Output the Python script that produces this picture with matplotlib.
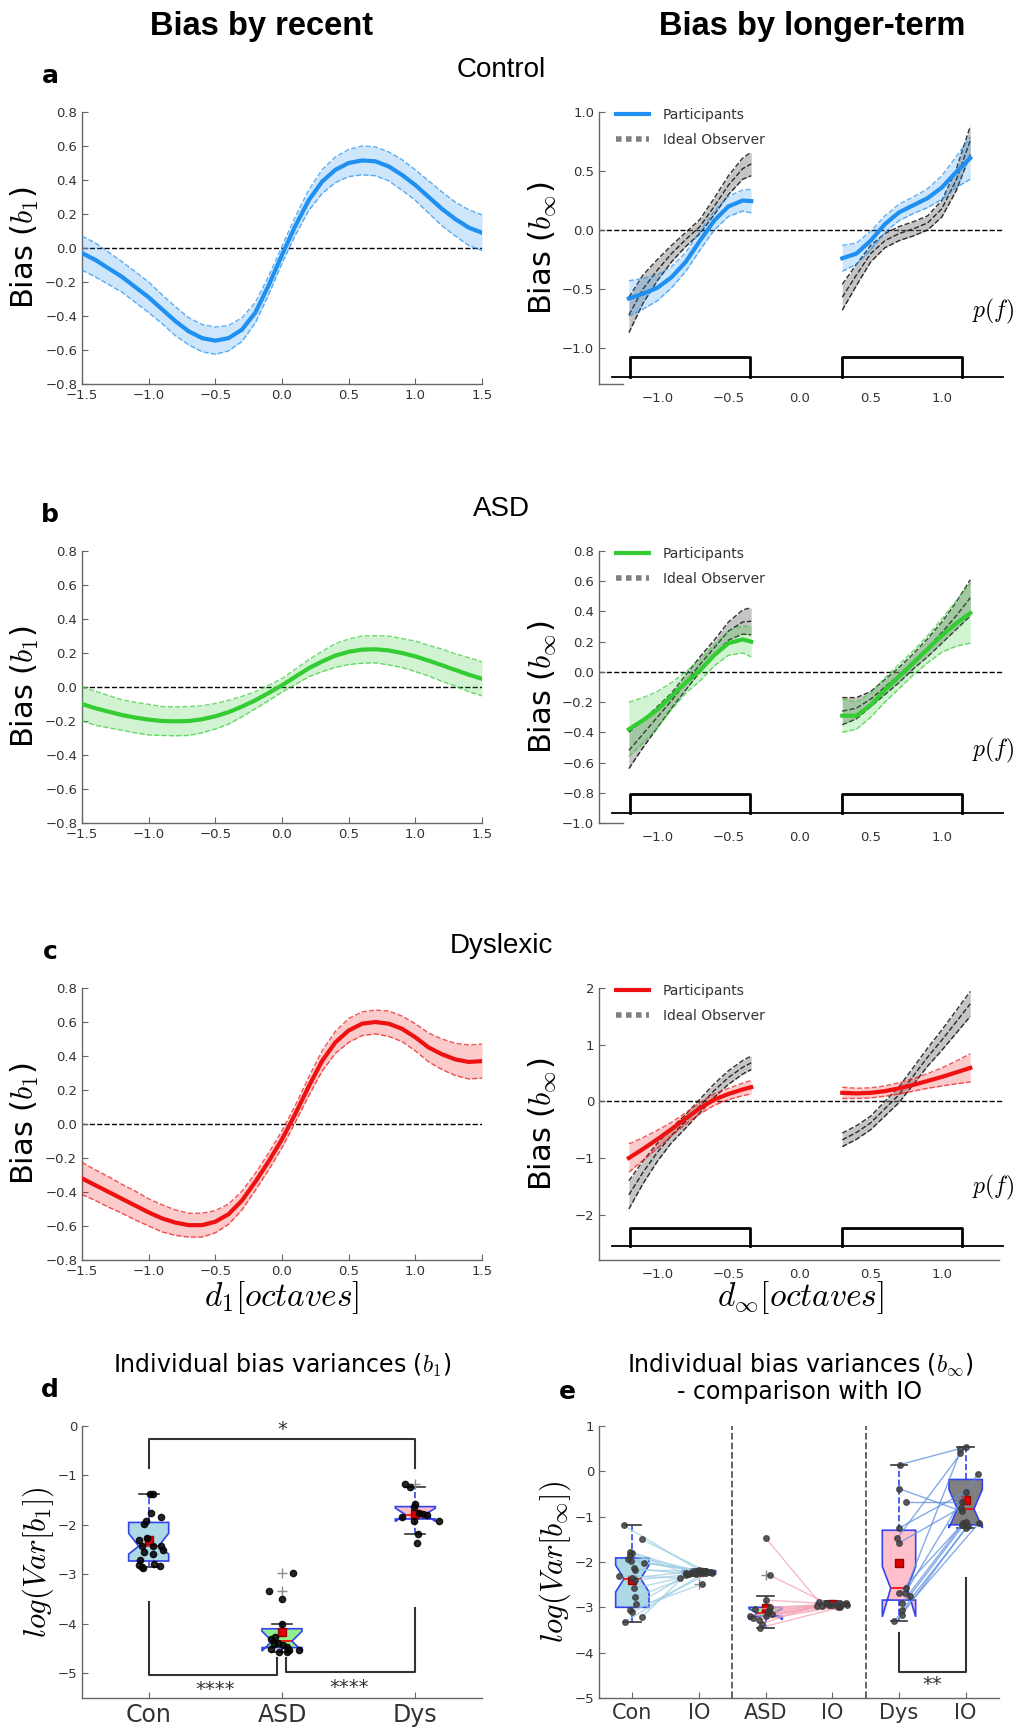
"""
Bias curves (recent / longer-term) for Control, ASD and Dyslexic groups,
plus individual bias variance box plots.
"""
import matplotlib
matplotlib.use("Agg")
import matplotlib.pyplot as plt
import matplotlib.transforms as mtransforms
from matplotlib.lines import Line2D
from matplotlib.ticker import FuncFormatter
import numpy as np

W, H = 1017, 1728

# ---------------- data: bias by recent (b1) ----------------
X1 = np.linspace(-1.5, 1.5, 31)
con_b1 = [-0.03, -0.07, -0.12, -0.17, -0.23, -0.29, -0.36, -0.43, -0.49, -0.53, -0.545,
          -0.53, -0.48, -0.38, -0.22, -0.04, 0.13, 0.28, 0.39, 0.46, 0.50,
          0.515, 0.51, 0.48, 0.43, 0.37, 0.30, 0.23, 0.17, 0.12, 0.09]
con_b1_hw = [0.10, 0.10, 0.095, 0.09, 0.09, 0.09, 0.085, 0.085, 0.08, 0.08, 0.08,
             0.075, 0.07, 0.06, 0.055, 0.05, 0.055, 0.06, 0.07, 0.075, 0.08,
             0.085, 0.085, 0.085, 0.09, 0.09, 0.095, 0.10, 0.10, 0.105, 0.105]
asd_b1 = [-0.10, -0.125, -0.145, -0.165, -0.18, -0.192, -0.20, -0.202, -0.20, -0.19, -0.172,
          -0.148, -0.115, -0.078, -0.035, 0.01, 0.06, 0.11, 0.15, 0.185, 0.207,
          0.22, 0.222, 0.215, 0.20, 0.18, 0.155, 0.128, 0.10, 0.073, 0.048]
asd_b1_hw = [0.10, 0.10, 0.095, 0.09, 0.09, 0.09, 0.085, 0.085, 0.085, 0.08,
             0.075, 0.07, 0.06, 0.05, 0.045, 0.04, 0.045, 0.05, 0.06, 0.07,
             0.075, 0.08, 0.08, 0.085, 0.085, 0.09, 0.09, 0.095, 0.095, 0.10, 0.10]
dys_b1 = [-0.32, -0.36, -0.40, -0.44, -0.48, -0.52, -0.555, -0.58, -0.595, -0.595, -0.575,
          -0.53, -0.45, -0.34, -0.22, -0.09, 0.06, 0.22, 0.37, 0.48, 0.55,
          0.59, 0.60, 0.59, 0.56, 0.51, 0.45, 0.41, 0.38, 0.365, 0.37]
dys_b1_hw = [0.095, 0.09, 0.09, 0.085, 0.085, 0.08, 0.08, 0.075, 0.07, 0.07,
             0.065, 0.06, 0.055, 0.05, 0.05, 0.05, 0.05, 0.055, 0.06, 0.065,
             0.07, 0.07, 0.07, 0.075, 0.075, 0.08, 0.085, 0.09, 0.095, 0.10, 0.10]

# ---------------- data: bias by longer-term (b_inf) ----------------
XL = [-1.2, -1.1, -1.0, -0.9, -0.8, -0.7, -0.6, -0.5, -0.4, -0.34]
XR = [0.3, 0.4, 0.5, 0.6, 0.7, 0.8, 0.9, 1.0, 1.1, 1.2]

con_part_L = [-0.58, -0.54, -0.49, -0.40, -0.27, -0.09, 0.08, 0.20, 0.25, 0.245]
con_part_L_hw = [0.15, 0.13, 0.11, 0.09, 0.08, 0.08, 0.08, 0.085, 0.09, 0.10]
con_io_L = [-0.72, -0.50, -0.34, -0.20, -0.08, 0.03, 0.20, 0.38, 0.52, 0.56]
con_io_L_hw = [0.15, 0.12, 0.09, 0.07, 0.06, 0.06, 0.07, 0.08, 0.09, 0.10]
con_part_R = [-0.24, -0.20, -0.09, 0.05, 0.15, 0.21, 0.27, 0.36, 0.49, 0.61]
con_part_R_hw = [0.11, 0.09, 0.08, 0.07, 0.07, 0.07, 0.08, 0.10, 0.13, 0.18]
con_io_R = [-0.57, -0.38, -0.20, -0.09, -0.03, 0.01, 0.06, 0.18, 0.42, 0.76]
con_io_R_hw = [0.11, 0.09, 0.07, 0.06, 0.06, 0.06, 0.06, 0.07, 0.09, 0.12]

asd_part_L = [-0.38, -0.32, -0.25, -0.16, -0.07, 0.01, 0.11, 0.19, 0.215, 0.20]
asd_part_L_hw = [0.18, 0.15, 0.12, 0.09, 0.07, 0.07, 0.07, 0.08, 0.09, 0.10]
asd_io_L = [-0.52, -0.41, -0.30, -0.19, -0.07, 0.05, 0.16, 0.27, 0.33, 0.335]
asd_io_L_hw = [0.12, 0.09, 0.07, 0.05, 0.05, 0.05, 0.05, 0.06, 0.08, 0.09]
asd_part_R = [-0.29, -0.29, -0.22, -0.12, -0.03, 0.06, 0.15, 0.24, 0.32, 0.39]
asd_part_R_hw = [0.11, 0.09, 0.08, 0.08, 0.08, 0.08, 0.09, 0.11, 0.15, 0.20]
asd_io_R = [-0.26, -0.24, -0.18, -0.10, -0.02, 0.07, 0.16, 0.26, 0.37, 0.49]
asd_io_R_hw = [0.09, 0.07, 0.05, 0.05, 0.05, 0.05, 0.06, 0.07, 0.09, 0.12]

dys_part_L = [-1.00, -0.84, -0.67, -0.49, -0.30, -0.12, 0.03, 0.13, 0.21, 0.25]
dys_part_L_hw = [0.25, 0.20, 0.16, 0.12, 0.10, 0.10, 0.10, 0.10, 0.11, 0.12]
dys_io_L = [-1.65, -1.25, -0.90, -0.60, -0.35, -0.08, 0.19, 0.42, 0.60, 0.68]
dys_io_L_hw = [0.25, 0.20, 0.16, 0.13, 0.12, 0.12, 0.12, 0.12, 0.12, 0.12]
dys_part_R = [0.15, 0.14, 0.15, 0.18, 0.23, 0.29, 0.36, 0.43, 0.51, 0.59]
dys_part_R_hw = [0.10, 0.09, 0.09, 0.09, 0.10, 0.11, 0.13, 0.16, 0.20, 0.25]
dys_io_R = [-0.68, -0.55, -0.38, -0.13, 0.12, 0.45, 0.78, 1.08, 1.40, 1.72]
dys_io_R_hw = [0.12, 0.12, 0.12, 0.13, 0.14, 0.15, 0.16, 0.18, 0.20, 0.22]

# stimulus distribution p(f): two uniform ranges + baseline extent
pf_lo = [-1.19, 0.30]
pf_hi = [-0.35, 1.14]
pf_base = [-1.32, 1.43]

# ---------------- data: panel d (log Var[b1]) ----------------
d_labels = ['Con', 'ASD', 'Dys']
d_med = [-2.43, -4.35, -1.79]
d_q1 = [-2.73, -4.48, -1.88]
d_q3 = [-1.95, -4.10, -1.63]
d_whislo = [-2.86, -4.57, -2.19]
d_whishi = [-1.38, -4.00, -1.23]
d_cilo = [-2.59, -4.55, -1.93]
d_cihi = [-2.17, -4.15, -1.66]
d_mean = [-2.31, -4.16, -1.77]
d_fliers = [[], [-2.97, -3.33], [-1.17]]
con_d = [-1.38, -1.38, -1.75, -1.84, -1.92, -1.99, -2.27, -2.31, -2.42, -2.42,
         -2.42, -2.51, -2.54, -2.58, -2.71, -2.81, -2.86, -2.88, -2.79, -2.83]
con_d_dx = [0.01, 0.03, 0.015, 0.09, -0.02, -0.035, -0.015, -0.07, -0.05, 0.03,
            0.09, 0.11, -0.035, 0.03, -0.065, -0.07, -0.05, -0.04, 0.04, 0.085]
asd_d = [-2.97, -3.33, -3.49, -4.00, -4.26, -4.30, -4.39, -4.40, -4.43, -4.47,
         -4.50, -4.53, -4.57, -4.53, -4.57]
asd_d_dx = [0.08, -0.10, 0.0, 0.0, -0.05, -0.085, -0.03, -0.06, 0.01, 0.035,
            -0.08, 0.05, -0.025, 0.127, 0.04]
dys_d = [-1.17, -1.23, -1.57, -1.63, -1.77, -1.80, -1.85, -1.92, -1.92, -2.19, -2.36, -1.75]
dys_d_dx = [-0.08, -0.04, 0.0, -0.01, 0.06, 0.085, -0.10, -0.01, 0.175, 0.02, 0.01, 0.03]

# ---------------- data: panel e (log Var[b_inf], vs ideal observer) ----------------
e_labels = ['Con', 'IO', 'ASD', 'IO', 'Dys', 'IO']
e_med = [-2.37, -2.22, -3.13, -2.93, -2.58, -0.83]
e_q1 = [-3.00, -2.26, -3.20, -2.97, -2.84, -1.18]
e_q3 = [-1.91, -2.19, -3.00, -2.90, -1.30, -0.18]
e_whislo = [-3.32, -2.30, -3.45, -3.00, -3.30, -1.26]
e_whishi = [-1.19, -2.15, -2.75, -2.87, 0.15, 0.54]
e_cilo = [-2.66, -2.24, -3.27, -2.95, -3.21, -1.25]
e_cihi = [-2.07, -2.20, -3.03, -2.91, -2.10, -0.40]
e_mean = [-2.40, -2.23, -3.01, -2.93, -2.02, -0.63]
e_fliers = [[], [-2.49], [-2.29], [], [], []]

con_e = [-1.19, -1.50, -1.77, -1.81, -1.85, -1.94, -1.97, -2.02, -2.14, -2.18,
         -2.31, -2.40, -2.58, -2.78, -2.93, -3.06, -3.10, -3.21, -3.32, -2.35]
con_e_dx = [-0.13, 0.145, -0.03, -0.005, -0.04, -0.06, -0.02, 0.17, 0.03, 0.045,
            -0.205, 0.045, 0.03, 0.045, 0.06, -0.03, 0.0, 0.145, -0.11, -0.01]
con_io = [-2.18, -2.20, -2.22, -2.25, -2.21, -2.23, -2.19, -2.24, -2.27, -2.20,
          -2.35, -2.26, -2.22, -2.21, -2.24, -2.49, -2.23, -2.28, -2.25, -2.20]
con_io_dx = [0.0, 0.10, -0.10, -0.20, 0.05, 0.15, -0.05, 0.20, -0.15, 0.08,
             -0.28, -0.05, 0.12, 0.02, -0.12, 0.04, 0.18, -0.20, 0.06, -0.02]
asd_e = [-1.47, -2.29, -2.84, -3.00, -3.04, -3.05, -3.15, -3.19, -3.24, -3.28,
         -3.36, -3.45, -3.12, -3.20]
asd_e_dx = [0.0, 0.06, 0.0, 0.06, -0.16, 0.05, 0.09, -0.23, -0.19, -0.10,
            -0.06, -0.09, 0.03, 0.0]
asd_io = [-2.88, -2.90, -2.93, -2.92, -2.95, -2.97, -2.90, -2.98, -2.94, -2.99,
          -2.96, -3.00, -2.91, -2.95]
asd_io_dx = [-0.20, -0.10, 0.05, 0.15, -0.05, 0.10, 0.20, -0.15, 0.0, 0.08,
             -0.23, 0.12, -0.08, 0.22]
dys_e = [0.15, -0.38, -0.67, -1.25, -1.48, -1.58, -2.58, -2.69, -2.69, -2.75,
         -2.90, -3.05, -3.17, -3.30]
dys_e_dx = [0.02, 0.0, 0.11, 0.0, -0.03, 0.0, 0.11, 0.0, 0.09, 0.16,
            0.05, 0.05, 0.04, -0.07]
dys_io = [0.50, -0.88, -0.67, -0.45, 0.54, -0.80, 0.40, -1.15, -0.05, -1.12,
          -1.18, -1.20, -1.25, -1.14]
dys_io_dx = [-0.09, -0.06, -0.05, 0.0, 0.0, -0.07, -0.09, -0.04, 0.18, 0.0,
             -0.06, 0.04, 0.0, 0.20]

# ---------------- style ----------------
plt.rcParams['font.family'] = ['DejaVu Sans']
plt.rcParams['mathtext.fontset'] = 'cm'
HEAD_FONT = ['Liberation Sans Narrow', 'Liberation Sans', 'DejaVu Sans']

BLUE = '#1f8ff0'
GREEN = '#33cc33'
RED = '#ee1111'
SPINE = '0.4'

ONE_DEC = FuncFormatter(lambda v, pos: f'{v + 0.0:.1f}'.replace('-', '\u2212')
                        if abs(v) > 1e-9 else '0.0')


def px_axes(fig, x0, y0, x1, y1):
    """Adds axes using pixel coordinates (top-left origin)"""
    return fig.add_axes([x0 / W, 1 - y1 / H, (x1 - x0) / W, (y1 - y0) / H])


def ftext(fig, x, y, s, **kw):
    """Figure text at pixel coordinates (top-left origin)"""
    kw.setdefault('ha', 'center')
    kw.setdefault('va', 'center')
    return fig.text(x / W, 1 - y / H, s, **kw)


def style_axes(ax):
    for side in ['top', 'right']:
        ax.spines[side].set_visible(False)
    for side in ['left', 'bottom']:
        ax.spines[side].set_color(SPINE)
        ax.spines[side].set_linewidth(1.0)
    ax.tick_params(direction='in', length=4, color=SPINE, labelcolor='0.2',
                   labelsize=9.5, top=False, right=False)


def band(ax, x, m, hw, color, io=False):
    """Draws mean curve with confidence band"""
    m = np.asarray(m)
    hw = np.asarray(hw)
    if io:
        ax.fill_between(x, m - hw, m + hw, color='#7f7f7f', alpha=0.45, lw=0, zorder=2)
        for y in (m - hw, m, m + hw):
            ax.plot(x, y, color='k', ls='--', lw=1, alpha=0.8, zorder=3)
    else:
        ax.fill_between(x, m - hw, m + hw, color=color, alpha=0.22, lw=0, zorder=4)
        for y in (m - hw, m + hw):
            ax.plot(x, y, color=color, ls='--', lw=1, alpha=0.7, zorder=4)
        ax.plot(x, m, color=color, lw=3, zorder=5)


def plot_recent(ax, mean, hw, color):
    band(ax, X1, mean, hw, color)
    ax.axhline(0, color='k', ls='--', lw=1, zorder=1)
    ax.set_xlim(-1.5, 1.5)
    ax.set_ylim(-0.8, 0.8)
    ax.set_xticks([-1.5, -1.0, -0.5, 0.0, 0.5, 1.0, 1.5])
    ax.set_yticks([-0.8, -0.6, -0.4, -0.2, 0.0, 0.2, 0.4, 0.6, 0.8])
    ax.xaxis.set_major_formatter(ONE_DEC)
    ax.yaxis.set_major_formatter(ONE_DEC)
    style_axes(ax)


def plot_longer(ax, curves, color, ylim, yticks, pf_y, full_bottom):
    part_L, part_L_hw, io_L, io_L_hw, part_R, part_R_hw, io_R, io_R_hw = curves
    band(ax, XL, io_L, io_L_hw, color, io=True)
    band(ax, XR, io_R, io_R_hw, color, io=True)
    band(ax, XL, part_L, part_L_hw, color)
    band(ax, XR, part_R, part_R_hw, color)
    ax.axhline(0, color='k', ls='--', lw=1, zorder=1)

    # p(f) drawn in axes-fraction height
    trans = mtransforms.blended_transform_factory(ax.transData, ax.transAxes)
    base, top = pf_y
    ax.plot(pf_base, [base, base], color='k', lw=1.3, transform=trans, clip_on=False)
    for lo, hi in zip(pf_lo, pf_hi):
        ax.plot([lo, lo, hi, hi], [base, top, top, base], color='k', lw=2,
                transform=trans, clip_on=False)
    ax.text(0.975, 0.265, '$p(f)$', transform=ax.transAxes, ha='center',
            va='center', fontsize=17)

    ax.set_xlim(-1.41, 1.43)
    ax.set_ylim(*ylim)
    ax.set_yticks(yticks)
    ax.set_xticks([-1.0, -0.5, 0.0, 0.5, 1.0])
    ax.xaxis.set_major_formatter(ONE_DEC)
    if not full_bottom:
        ax.yaxis.set_major_formatter(ONE_DEC)
    style_axes(ax)
    ax.tick_params(axis='x', length=0, pad=6)
    if full_bottom:
        ax.spines['bottom'].set_bounds(-1.41, 1.40)
    else:
        ax.spines['bottom'].set_bounds(-1.41, -1.24)

    handles = [Line2D([], [], color=color, lw=3),
               Line2D([], [], color='#808080', lw=4, ls=(0, (1, 0.8)))]
    leg = ax.legend(handles, ['Participants', 'Ideal Observer'], loc='upper left',
                    bbox_to_anchor=(0.01, 1.06), frameon=False, fontsize=10,
                    handlelength=2.4, labelspacing=0.75, handletextpad=1.0)
    for t in leg.get_texts():
        t.set_color('0.2')


def make_stats(med, q1, q3, wlo, whi, cilo, cihi, mean, fliers, labels):
    stats = []
    for i in range(len(med)):
        stats.append({'med': med[i], 'q1': q1[i], 'q3': q3[i], 'whislo': wlo[i],
                      'whishi': whi[i], 'cilo': cilo[i], 'cihi': cihi[i],
                      'mean': mean[i], 'fliers': fliers[i], 'label': labels[i]})
    return stats


def draw_boxes(ax, stats, positions, width, faces):
    art = ax.bxp(stats, positions=positions, widths=width, shownotches=True,
                 patch_artist=True, showmeans=True, manage_ticks=False,
                 boxprops=dict(edgecolor='#3344ee', lw=1.2),
                 whiskerprops=dict(color='#3344ee', ls='--', lw=1.2),
                 capprops=dict(color='0.2', lw=1.2),
                 medianprops=dict(color='red', lw=1.2),
                 flierprops=dict(marker='+', markeredgecolor='0.55', markersize=7, ls='none'),
                 meanprops=dict(marker='s', markerfacecolor='#dd0000',
                                markeredgecolor='#990000', markersize=6))
    for patch, fc in zip(art['boxes'], faces):
        patch.set_facecolor(fc)
    return art


def bracket(ax, xs, ys):
    ax.plot(xs, ys, color='0.2', lw=1.5, zorder=6)


def main():
    fig = plt.figure(figsize=(W / 100, H / 100), dpi=100)

    # column headers and row titles
    ftext(fig, 262, 26, 'Bias by recent', fontsize=23.5, fontweight='bold', family=HEAD_FONT)
    ftext(fig, 812, 26, 'Bias by longer-term', fontsize=23.5, fontweight='bold', family=HEAD_FONT)
    rows = [('a', 'Control', 112), ('b', 'ASD', 551), ('c', 'Dyslexic', 988)]
    for letter, title, top in rows:
        ftext(fig, 50, top - 36, letter, fontsize=18, fontweight='bold')
        ftext(fig, 501, top - 42, title, fontsize=20, family=HEAD_FONT)

    recent = [(con_b1, con_b1_hw, BLUE), (asd_b1, asd_b1_hw, GREEN), (dys_b1, dys_b1_hw, RED)]
    longer = [
        ((con_part_L, con_part_L_hw, con_io_L, con_io_L_hw,
          con_part_R, con_part_R_hw, con_io_R, con_io_R_hw), BLUE,
         (-1.305, 1.0), [-1.0, -0.5, 0.0, 0.5, 1.0], (0.026, 0.099), False),
        ((asd_part_L, asd_part_L_hw, asd_io_L, asd_io_L_hw,
          asd_part_R, asd_part_R_hw, asd_io_R, asd_io_R_hw), GREEN,
         (-1.0, 0.8), [-1.0, -0.8, -0.6, -0.4, -0.2, 0.0, 0.2, 0.4, 0.6, 0.8],
         (0.037, 0.107), False),
        ((dys_part_L, dys_part_L_hw, dys_io_L, dys_io_L_hw,
          dys_part_R, dys_part_R_hw, dys_io_R, dys_io_R_hw), RED,
         (-2.8, 2.0), [-2, -1, 0, 1, 2], (0.051, 0.117), True),
    ]
    for (letter, title, top), (m, hw, col), lg in zip(rows, recent, longer):
        bottom = top + 272
        axl = px_axes(fig, 82, top, 482, bottom)
        plot_recent(axl, m, hw, col)
        axr = px_axes(fig, 599, top, 1003, bottom)
        plot_longer(axr, *lg)
        ftext(fig, 25, (top + bottom) / 2, 'Bias ($b_1$)', fontsize=22, rotation=90)
        ftext(fig, 542, (top + bottom) / 2, r'Bias ($b_\infty$)', fontsize=22, rotation=90)

    ftext(fig, 282, 1298, '$d_1[octaves]$', fontsize=24)
    ftext(fig, 800, 1298, r'$d_\infty[octaves]$', fontsize=24)

    # ---- panel d ----
    axd = px_axes(fig, 82, 1426, 482, 1698)
    stats_d = make_stats(d_med, d_q1, d_q3, d_whislo, d_whishi, d_cilo, d_cihi,
                         d_mean, d_fliers, d_labels)
    draw_boxes(axd, stats_d, [1, 2, 3], 0.3, ['#add8e6', '#90ee90', '#ffc0cb'])
    for pos, vals, dx in [(1, con_d, con_d_dx), (2, asd_d, asd_d_dx), (3, dys_d, dys_d_dx)]:
        axd.plot(pos + np.asarray(dx), vals, 'o', color='k', ms=4.5, alpha=0.85, zorder=5)
    bracket(axd, [1, 1, 3, 3], [-0.85, -0.27, -0.27, -0.85])
    axd.text(2, -0.08, '*', ha='center', va='center', fontsize=14, color='0.2')
    bracket(axd, [1, 1, 1.96, 1.96], [-3.56, -5.03, -5.03, -4.7])
    bracket(axd, [2.03, 2.03, 3, 3], [-4.7, -4.97, -4.97, -3.69])
    axd.text(1.5, -5.33, '****', ha='center', va='center', fontsize=14, color='0.2')
    axd.text(2.5, -5.28, '****', ha='center', va='center', fontsize=14, color='0.2')
    axd.set_xlim(0.5, 3.5)
    axd.set_ylim(-5.5, 0)
    axd.set_yticks([0, -1, -2, -3, -4, -5])
    axd.set_xticks([1, 2, 3])
    style_axes(axd)
    axd.set_xticklabels(d_labels, fontsize=17)
    ftext(fig, 282, 1365, 'Individual bias variances ($b_1$)', fontsize=17)
    ftext(fig, 50, 1390, 'd', fontsize=18, fontweight='bold')
    ftext(fig, 38, 1562, '$log(Var[b_1])$', fontsize=22, rotation=90)

    # ---- panel e ----
    axe = px_axes(fig, 599, 1426, 999, 1698)
    stats_e = make_stats(e_med, e_q1, e_q3, e_whislo, e_whishi, e_cilo, e_cihi,
                         e_mean, e_fliers, e_labels)
    draw_boxes(axe, stats_e, [1, 2, 3, 4, 5, 6], 0.5,
               ['#add8e6', '#add8e6', '#90ee90', '#ffc0cb', '#ffc0cb', '#808080'])
    pairs = [(1, con_e, con_e_dx, 2, con_io, con_io_dx, '#9ccfe3'),
             (3, asd_e, asd_e_dx, 4, asd_io, asd_io_dx, '#f5a3b5'),
             (5, dys_e, dys_e_dx, 6, dys_io, dys_io_dx, '#5b8fe0')]
    for p0, v0, dx0, p1, v1, dx1, lc in pairs:
        x0 = p0 + np.asarray(dx0)
        x1 = p1 + np.asarray(dx1)
        for a, b, c, d in zip(x0, v0, x1, v1):
            axe.plot([a, c], [b, d], color=lc, lw=1, alpha=0.75, zorder=3)
        axe.plot(x0, v0, 'o', color='#3a3a3a', ms=4, alpha=0.8, zorder=5)
        axe.plot(x1, v1, 'o', color='#3a3a3a', ms=4, alpha=0.8, zorder=5)
    for xv in (2.5, 4.5):
        axe.axvline(xv, color='0.35', ls='--', lw=1.3, zorder=1)
    bracket(axe, [5, 5, 6, 6], [-3.57, -4.43, -4.43, -2.36])
    axe.text(5.5, -4.7, '**', ha='center', va='center', fontsize=14, color='0.2')
    axe.set_xlim(0.5, 6.5)
    axe.set_ylim(-5, 1)
    axe.set_yticks([1, 0, -1, -2, -3, -4, -5])
    axe.set_xticks([1, 2, 3, 4, 5, 6])
    style_axes(axe)
    axe.set_xticklabels(e_labels, fontsize=15)
    ftext(fig, 800, 1378, 'Individual bias variances ($b_\\infty$)\n- comparison with IO',
          fontsize=17, linespacing=1.1)
    ftext(fig, 567, 1392, 'e', fontsize=18, fontweight='bold')
    ftext(fig, 555, 1562, r'$log(Var[b_\infty])$', fontsize=22, rotation=90)

    fig.savefig('out.png', dpi=100)


if __name__ == '__main__':
    main()
